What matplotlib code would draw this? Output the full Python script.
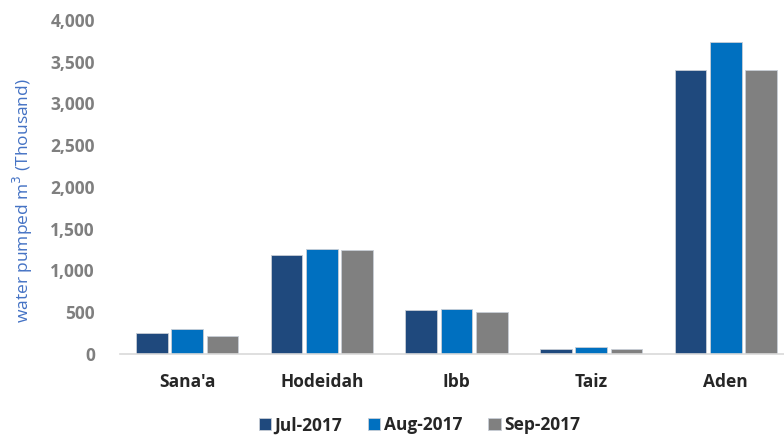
import numpy as np
import matplotlib.pyplot as plt
from matplotlib.ticker import FuncFormatter

cities = ["Sana'a", "Hodeidah", "Ibb", "Taiz", "Aden"]
months = ["Jul-2017", "Aug-2017", "Sep-2017"]
jul_2017 = [252, 1177, 517, 60, 3400]
aug_2017 = [292, 1260, 540, 84, 3741]
sep_2017 = [212, 1237, 498, 60, 3400]
series = [jul_2017, aug_2017, sep_2017]
colors = ["#1F497D", "#0070C0", "#808080"]

plt.rcParams['font.family'] = ['Open Sans', 'DejaVu Sans']

fig = plt.figure(figsize=(7.84, 4.36), dpi=100)
ax = fig.add_axes([0.153, 0.189, 0.85, 0.765])

x = np.arange(len(cities))
width = 0.235
step = 0.262
for i, (vals, c, lab) in enumerate(zip(series, colors, months)):
    ax.bar(x + (i - 1) * step, vals, width, color=c, label=lab,
           edgecolor="#C8CED6", linewidth=0.6, zorder=2)

ax.set_ylim(0, 4000)
ax.set_xlim(-0.5, 4.45)
ax.set_yticks(range(0, 4001, 500))
ax.yaxis.set_major_formatter(FuncFormatter(lambda v, p: f"{int(v):,}"))
ax.set_xticks(x)
ax.set_xticklabels(cities, fontsize=12.5, fontweight='bold', color="#262626")
ax.tick_params(axis='y', length=0, pad=18, labelsize=12.5, labelcolor="#7F7F7F")
ax.tick_params(axis='x', length=0, pad=14)
for lbl in ax.get_yticklabels():
    lbl.set_fontweight('bold')

for s in ['top', 'right', 'left']:
    ax.spines[s].set_visible(False)
ax.spines['bottom'].set_color("#D9D9D9")
ax.spines['bottom'].set_linewidth(1.2)

ax.set_ylabel("water pumped m$^3$ (Thousand)", color="#4472C4", fontsize=12.5)
ax.yaxis.set_label_coords(-0.128, 0.46)

fig.legend(loc='lower center', bbox_to_anchor=(0.535, -0.032), ncol=3, frameon=False,
           prop={'weight': 'bold', 'size': 12.5}, handlelength=0.7, handleheight=0.7,
           handletextpad=0.2, columnspacing=1.5, labelcolor="#262626")

fig.savefig("out.png", dpi=100)
